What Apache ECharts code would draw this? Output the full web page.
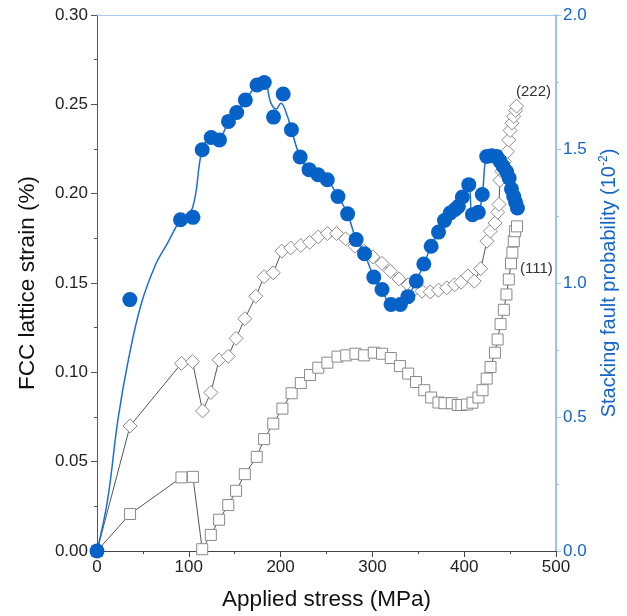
<!DOCTYPE html>
<html><head><meta charset="utf-8">
<script src="https://cdn.jsdelivr.net/npm/echarts@6/dist/echarts.min.js"></script>
<style>html,body{margin:0;padding:0;background:#fff}#c{width:627px;height:616px}</style>
</head><body><div id="c"></div>
<script>
// x ticks
const xTicks = [0, 100, 200, 300, 400, 500];
// FCC (111) lattice strain (%)
const strain111 = [[0,0],[36,0.0207],[92,0.0412],[104.5,0.0415],[114.6,0.001],[124,0.009],[133,0.0175],[143,0.0257],[151.5,0.0337],[161,0.043],[174,0.0527],[182,0.0626],[192,0.0713],[202,0.0797],[212,0.0883],[222,0.094],[232,0.0985],[241,0.1026],[251,0.1054],[262,0.1088],[271.5,0.1095],[281.5,0.1104],[291,0.1095],[301.5,0.111],[310.5,0.1104],[320,0.108],[330,0.1035],[339,0.0993],[347.5,0.0946],[356.5,0.090],[364,0.0859],[372,0.0831],[378.5,0.0827],[386.5,0.0827],[393,0.0817],[397,0.0817],[403,0.082],[409,0.083],[415.5,0.0859],[420,0.090],[424.5,0.0965],[428.7,0.103],[433.5,0.111],[436.4,0.1184],[439.6,0.127],[443.2,0.135],[446,0.1436],[448.6,0.152],[451,0.161],[452.5,0.167],[454,0.1734],[455.5,0.179],[457.5,0.1817]];
// FCC (222) lattice strain (%)
const strain222 = [[0,0],[36,0.070],[92,0.105],[104,0.106],[115,0.0784],[124,0.0887],[133,0.107],[143,0.109],[151.5,0.119],[161,0.130],[173,0.1426],[182,0.1535],[192,0.1557],[201.4,0.1678],[211,0.1696],[222,0.171],[231.7,0.1728],[241,0.1758],[251,0.1777],[261,0.1777],[270.8,0.1747],[281,0.1706],[291,0.1678],[300.5,0.1646],[310.5,0.161],[319.6,0.1566],[329,0.1523],[339,0.149],[346.7,0.1468],[354,0.1454],[363,0.145],[372,0.146],[381,0.1473],[389.5,0.149],[396.6,0.1504],[404,0.154],[411,0.151],[418,0.158],[424.8,0.1734],[428.5,0.179],[433.6,0.1836],[436.4,0.1896],[437.9,0.194],[438.9,0.2075],[441,0.2125],[444,0.218],[447,0.2236],[448.5,0.230],[450,0.2354],[452,0.2395],[454,0.2432],[456,0.2466],[457,0.249]];
// Stacking fault probability (10^-2), measured points
const sfp = [[0,0],[35.8,0.938],[91,1.236],[104.5,1.245],[114.6,1.497],[124.4,1.543],[133.4,1.534],[143.2,1.603],[152.2,1.636],[161.6,1.683],[174.3,1.739],[182.2,1.748],[192.3,1.619],[202.8,1.705],[211.8,1.572],[221.3,1.47],[231,1.423],[240.8,1.404],[250.9,1.385],[262.5,1.323],[273,1.258],[282.3,1.162],[291.4,1.109],[301.5,1.022],[310.5,0.976],[320.3,0.92],[330.5,0.92],[338.7,0.949],[347.8,1.007],[356,1.071],[364,1.137],[372,1.19],[378.5,1.233],[384.7,1.261],[390,1.274],[393.7,1.286],[398,1.321],[405,1.367],[409,1.255],[415.4,1.264],[419.7,1.33],[424.5,1.472],[429.8,1.475],[435.3,1.472],[439,1.454],[442.5,1.435],[446,1.416],[449,1.392],[451.5,1.351],[454,1.323],[456,1.301],[458,1.28]];
// Stacking fault probability guide curve
const sfpFit = [[0,0],[11.5,0.19],[22.8,0.49],[34,0.71],[48,0.92],[64,1.07],[77,1.15],[91,1.236],[104,1.28],[114.6,1.497],[124.4,1.543],[133.4,1.545],[143.2,1.600],[152.2,1.636],[161.6,1.683],[174.3,1.739],[182.2,1.748],[189.5,1.671],[195,1.649],[200.3,1.671],[207.5,1.621],[211.8,1.572],[221.3,1.47],[231,1.423],[240.8,1.404],[250.9,1.385],[262.5,1.323],[273,1.258],[282.3,1.162],[291.4,1.109],[301.5,1.022],[310.5,0.976],[320.3,0.92],[330.5,0.92],[338.7,0.949],[347.8,1.007],[356,1.071],[364,1.137],[372,1.19],[378.5,1.233],[384.7,1.261],[390,1.274],[393.7,1.286],[398,1.321],[405,1.367],[409,1.255],[415.4,1.264],[419.7,1.33],[424.5,1.472],[429.8,1.475],[435.3,1.472],[439,1.454],[442.5,1.435],[446,1.416],[449,1.392],[451.5,1.351],[454,1.323],[456,1.301],[458,1.28]];

const FONT = 'Liberation Sans, Arial, Helvetica, sans-serif';
const BLUE = '#0762c8';
const chart = echarts.init(document.getElementById('c'), null, {renderer: 'canvas'});
const option = {
  animation: false,
  backgroundColor: '#fff',
  textStyle: {fontFamily: FONT},
  grid: {left: 97, right: 69, top: 15, bottom: 64},
  xAxis: [{
    type: 'value', min: 0, max: 500, interval: 100, position: 'bottom',
    name: 'Applied stress (MPa)', nameLocation: 'middle', nameGap: 37,
    nameTextStyle: {fontSize: 22.5, color: '#111', fontFamily: FONT},
    axisLine: {show: true, onZero: false, lineStyle: {color: '#444', width: 1}},
    axisTick: {show: true, inside: false, length: 6, lineStyle: {color: '#444'}},
    minorTick: {show: true, splitNumber: 2, length: 3, lineStyle: {color: '#444'}},
    axisLabel: {fontSize: 17, color: '#222', margin: 8, formatter: v => xTicks.includes(v) ? String(v) : ''},
    splitLine: {show: false}
  }, {
    type: 'value', min: 0, max: 500, position: 'top',
    axisLine: {show: true, onZero: false, lineStyle: {color: '#a9c9ee', width: 1}},
    axisTick: {show: false}, axisLabel: {show: false}, splitLine: {show: false}
  }],
  yAxis: [{
    type: 'value', min: 0, max: 0.30, interval: 0.05, position: 'left',
    name: 'FCC lattice strain (%)', nameLocation: 'middle', nameGap: 58, nameRotate: 90,
    nameTextStyle: {fontSize: 22.5, color: '#111', fontFamily: FONT},
    axisLine: {show: true, onZero: false, lineStyle: {color: '#555', width: 1}},
    axisTick: {show: true, inside: false, length: 6, lineStyle: {color: '#555'}},
    minorTick: {show: true, splitNumber: 2, length: 3, lineStyle: {color: '#555'}},
    axisLabel: {fontSize: 17, color: '#222', margin: 9, formatter: v => v.toFixed(2)},
    splitLine: {show: false}
  }, {
    type: 'value', min: 0, max: 2.0, interval: 0.5, position: 'right',
    name: 'Stacking fault probability (10{sup|-2})', nameLocation: 'middle', nameGap: 42, nameRotate: 90,
    nameTextStyle: {fontSize: 20, color: '#1565c8', fontFamily: FONT,
      rich: {sup: {fontSize: 12, color: '#1565c8', verticalAlign: 'top', padding: [0, 0, 10, 0]}}},
    axisLine: {show: true, onZero: false, lineStyle: {color: '#9cc2ec', width: 2}},
    axisTick: {show: true, inside: false, length: 5, lineStyle: {color: '#9cc2ec'}},
    minorTick: {show: true, splitNumber: 2, length: 3, lineStyle: {color: '#9cc2ec'}},
    axisLabel: {fontSize: 17, color: '#1565c8', margin: 7, formatter: v => v.toFixed(1)},
    splitLine: {show: false}
  }],
  series: [{
    name: '(111)', type: 'line', xAxisIndex: 0, yAxisIndex: 0, data: strain111,
    symbol: 'rect', symbolSize: 11, z: 2,
    lineStyle: {color: '#555', width: 1},
    itemStyle: {color: '#fff', borderColor: '#8a8a8a', borderWidth: 1}
  }, {
    name: '(222)', type: 'line', xAxisIndex: 0, yAxisIndex: 0, data: strain222,
    symbol: 'diamond', symbolSize: 14, z: 3,
    lineStyle: {color: '#555', width: 1},
    itemStyle: {color: '#fff', borderColor: '#8a8a8a', borderWidth: 1}
  }, {
    name: 'SFP fit', type: 'line', xAxisIndex: 0, yAxisIndex: 1, data: sfpFit,
    symbol: 'none', smooth: 0.4, z: 4,
    lineStyle: {color: '#1a6fd4', width: 1.5}
  }, {
    name: 'SFP', type: 'scatter', xAxisIndex: 0, yAxisIndex: 1, data: sfp,
    symbol: 'circle', symbolSize: 15, z: 5,
    itemStyle: {color: BLUE, opacity: 1}
  }],
  graphic: [
    {type: 'text', left: 516, top: 84, style: {text: '(222)', fontSize: 15, fill: '#333', fontFamily: FONT}},
    {type: 'text', left: 520, top: 261, style: {text: '(111)', fontSize: 15, fill: '#333', fontFamily: FONT}}
  ]
};
chart.setOption(option);
</script>
</body></html>
